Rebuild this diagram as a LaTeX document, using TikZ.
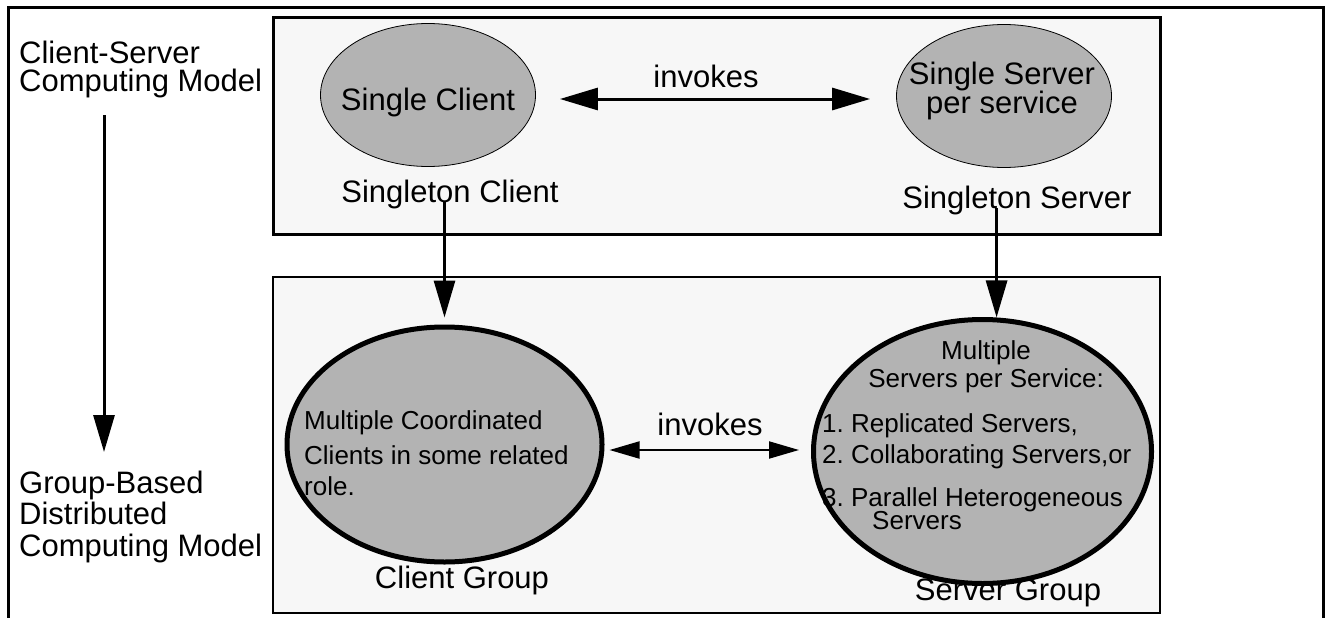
\documentclass[tikz,border=0pt]{standalone}
\usepackage{fontspec}
\setmainfont{Liberation Sans}
\usepackage{xcolor}
\usetikzlibrary{arrows.meta,shapes.geometric}
\definecolor{panelgray}{HTML}{F7F7F7}
\definecolor{blobgray}{HTML}{B3B3B3}
\frenchspacing

\begin{document}
\begin{tikzpicture}[x=1pt,y=-1pt,
	big/.style={font=\fontsize{31}{28}\selectfont,inner sep=0pt},
	small/.style={font=\fontsize{26}{31}\selectfont,inner sep=0pt},
	single/.style={ellipse,draw,line width=0.8pt,fill=blobgray,minimum width=215pt,minimum height=143pt,inner sep=0pt},
	group/.style={ellipse,draw,line width=5pt,fill=blobgray,inner sep=0pt},
	bigtip/.style={line width=3pt,-{Triangle[length=37pt,width=21pt]}},
	bothtip/.style={line width=3pt,{Triangle[length=38pt,width=22pt]}-{Triangle[length=38pt,width=22pt]}},
	smallboth/.style={line width=2pt,{Triangle[length=30pt,width=17pt]}-{Triangle[length=30pt,width=17pt]}}]
	\useasboundingbox (0,0) rectangle (1327,618);
	%
	\draw[line width=3pt] (8,618) -- (8,8) -- (1323,8) -- (1323,618);
	\draw[line width=3pt,fill=panelgray] (273,18) rectangle (1160,234);
	\draw[line width=2pt,fill=panelgray] (273,277) rectangle (1160,613);
	%
	\node[big,align=left,anchor=north west] (csmodel) at (19,40.5) {Client-Server\\Computing Model};
	\node[big,align=left,anchor=north west,font=\fontsize{31}{31.5}\selectfont] (gbmodel) at (19,470.5) {Group-Based\\Distributed\\Computing Model};
	\coordinate (modeltop) at (104,115);
	\coordinate (modelbot) at (104,452);
	\draw[bigtip] (modeltop) -- (modelbot);
	%
	\node[single] (sclient) at (428,95) {};
	\node[single] (sserver) at (1004,96) {};
	\node[big,anchor=base] (sclienttxt) at (428,110) {Single Client};
	\node[big,align=center,anchor=north,font=\fontsize{31}{29}\selectfont] (sservertxt) at (1002,61.5) {Single Server\\per service};
	\node[big,anchor=base] (sclientlbl) at (450,202) {Singleton Client};
	\node[big,anchor=base] (sserverlbl) at (1017,208) {Singleton Server};
	\node[big,anchor=base] (topinv) at (706,87) {invokes};
	\coordinate (sclientout) at ([yshift=-4pt]sclient.east);
	\draw[bothtip,shorten <=24pt,shorten >=26pt] (sclientout) -- (sclientout -| sserver.west);
	%
	\node[group,minimum width=315pt,minimum height=235pt] (cgroup) at (444.5,444.5) {};
	\node[group,minimum width=338pt,minimum height=264pt] (sgroup) at (982.5,451.5) {};
	\node[small,align=left,anchor=north west] (cgrouptxt) at (304,410) {Multiple Coordinated\\[4pt]Clients in some related\\role.};
	\node[small,align=center,anchor=north,font=\fontsize{26}{28}\selectfont] (sgrouphead) at (986,340) {Multiple\\Servers per Service:};
	\node[small,align=left,anchor=north west] (sgrouplist) at (822,413) {1. Replicated Servers,\\2. Collaborating Servers,or\\[12pt]3. Parallel Heterogeneous\\[-8pt]\hspace*{50pt}Servers};
	\node[big,anchor=base] (cgrouplbl) at (462,588) {Client Group};
	\node[big,anchor=base] (sgrouplbl) at (1008,600) {Server Group};
	\node[big,anchor=base] (botinv) at (710,435) {invokes};
	\coordinate (cgroupout) at ([yshift=-5.5pt]cgroup.east);
	\draw[smallboth,shorten <=5pt,shorten >=12pt] (cgroupout) -- (cgroupout -| sgroup.west);
	%
	\draw[bigtip,shorten >=7pt] (sclientlbl.base -| cgroup.north) -- (cgroup.north);
	\draw[bigtip] (sserverlbl.base -| sgroup.84) -- (sgroup.84);
\end{tikzpicture}
\end{document}
